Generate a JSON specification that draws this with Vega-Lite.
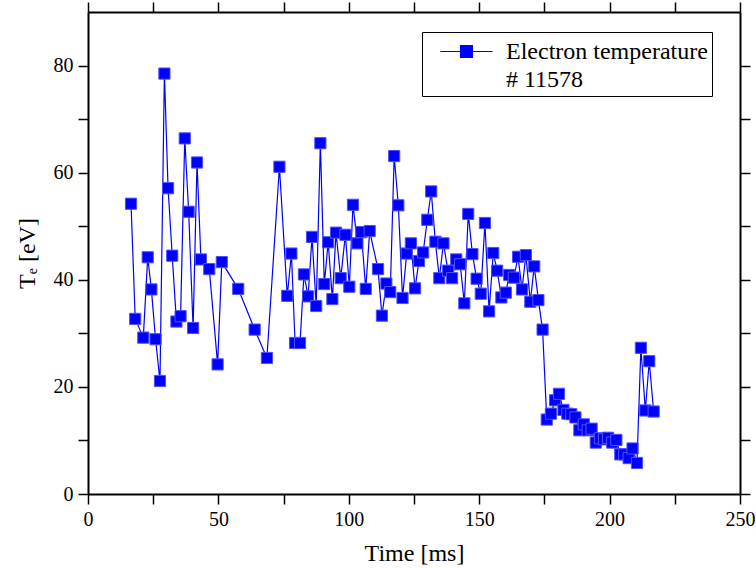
{
  "$schema": "https://vega.github.io/schema/vega-lite/v6.json",
  "width": 652,
  "height": 482,
  "autosize": {"type": "none"},
  "padding": {"left": 88, "top": 12, "right": 16, "bottom": 74},
  "background": "white",
  "config": {
    "font": "Liberation Serif",
    "view": {"stroke": null},
    "axis": {"domainColor": "black", "domainWidth": 2, "tickColor": "black", "tickWidth": 1.5, "labelColor": "black", "titleColor": "black", "labelFont": "Liberation Serif", "titleFont": "Liberation Serif", "grid": false, "titleFontWeight": "normal"},
    "legend": {"labelFont": "Liberation Serif"}
  },
  "data": {
    "values": [
      {"t": 16.5, "Te": 54.2, "series": "Electron temperature"},
      {"t": 18.1, "Te": 32.7, "series": "Electron temperature"},
      {"t": 21.2, "Te": 29.2, "series": "Electron temperature"},
      {"t": 22.9, "Te": 44.2, "series": "Electron temperature"},
      {"t": 24.3, "Te": 38.2, "series": "Electron temperature"},
      {"t": 25.9, "Te": 28.9, "series": "Electron temperature"},
      {"t": 27.6, "Te": 21.1, "series": "Electron temperature"},
      {"t": 29.3, "Te": 78.5, "series": "Electron temperature"},
      {"t": 30.7, "Te": 57.1, "series": "Electron temperature"},
      {"t": 32.3, "Te": 44.5, "series": "Electron temperature"},
      {"t": 33.9, "Te": 32.2, "series": "Electron temperature"},
      {"t": 35.5, "Te": 33.2, "series": "Electron temperature"},
      {"t": 37.1, "Te": 66.4, "series": "Electron temperature"},
      {"t": 38.6, "Te": 52.7, "series": "Electron temperature"},
      {"t": 40.3, "Te": 31.0, "series": "Electron temperature"},
      {"t": 41.8, "Te": 61.9, "series": "Electron temperature"},
      {"t": 43.3, "Te": 43.8, "series": "Electron temperature"},
      {"t": 46.5, "Te": 42.0, "series": "Electron temperature"},
      {"t": 49.7, "Te": 24.2, "series": "Electron temperature"},
      {"t": 51.3, "Te": 43.3, "series": "Electron temperature"},
      {"t": 57.6, "Te": 38.3, "series": "Electron temperature"},
      {"t": 63.9, "Te": 30.7, "series": "Electron temperature"},
      {"t": 68.6, "Te": 25.4, "series": "Electron temperature"},
      {"t": 73.4, "Te": 61.1, "series": "Electron temperature"},
      {"t": 76.4, "Te": 37.0, "series": "Electron temperature"},
      {"t": 78.0, "Te": 44.9, "series": "Electron temperature"},
      {"t": 79.4, "Te": 28.2, "series": "Electron temperature"},
      {"t": 81.3, "Te": 28.2, "series": "Electron temperature"},
      {"t": 82.8, "Te": 41.0, "series": "Electron temperature"},
      {"t": 84.4, "Te": 36.9, "series": "Electron temperature"},
      {"t": 85.9, "Te": 48.0, "series": "Electron temperature"},
      {"t": 87.5, "Te": 35.1, "series": "Electron temperature"},
      {"t": 89.1, "Te": 65.5, "series": "Electron temperature"},
      {"t": 90.6, "Te": 39.2, "series": "Electron temperature"},
      {"t": 92.1, "Te": 47.0, "series": "Electron temperature"},
      {"t": 93.7, "Te": 36.4, "series": "Electron temperature"},
      {"t": 95.1, "Te": 48.8, "series": "Electron temperature"},
      {"t": 96.9, "Te": 40.3, "series": "Electron temperature"},
      {"t": 98.7, "Te": 48.4, "series": "Electron temperature"},
      {"t": 100.2, "Te": 38.7, "series": "Electron temperature"},
      {"t": 101.6, "Te": 54.0, "series": "Electron temperature"},
      {"t": 103.3, "Te": 46.8, "series": "Electron temperature"},
      {"t": 104.8, "Te": 48.9, "series": "Electron temperature"},
      {"t": 106.5, "Te": 38.3, "series": "Electron temperature"},
      {"t": 108.0, "Te": 49.1, "series": "Electron temperature"},
      {"t": 111.2, "Te": 42.0, "series": "Electron temperature"},
      {"t": 112.7, "Te": 33.3, "series": "Electron temperature"},
      {"t": 114.4, "Te": 39.3, "series": "Electron temperature"},
      {"t": 115.9, "Te": 37.7, "series": "Electron temperature"},
      {"t": 117.4, "Te": 63.1, "series": "Electron temperature"},
      {"t": 119.0, "Te": 53.9, "series": "Electron temperature"},
      {"t": 120.6, "Te": 36.6, "series": "Electron temperature"},
      {"t": 122.2, "Te": 44.9, "series": "Electron temperature"},
      {"t": 123.8, "Te": 46.8, "series": "Electron temperature"},
      {"t": 125.4, "Te": 38.4, "series": "Electron temperature"},
      {"t": 126.9, "Te": 43.5, "series": "Electron temperature"},
      {"t": 128.5, "Te": 45.1, "series": "Electron temperature"},
      {"t": 130.1, "Te": 51.2, "series": "Electron temperature"},
      {"t": 131.6, "Te": 56.5, "series": "Electron temperature"},
      {"t": 133.2, "Te": 47.1, "series": "Electron temperature"},
      {"t": 134.7, "Te": 40.3, "series": "Electron temperature"},
      {"t": 136.3, "Te": 46.8, "series": "Electron temperature"},
      {"t": 138.0, "Te": 41.7, "series": "Electron temperature"},
      {"t": 139.6, "Te": 40.3, "series": "Electron temperature"},
      {"t": 141.2, "Te": 43.8, "series": "Electron temperature"},
      {"t": 142.7, "Te": 42.9, "series": "Electron temperature"},
      {"t": 144.3, "Te": 35.6, "series": "Electron temperature"},
      {"t": 145.8, "Te": 52.3, "series": "Electron temperature"},
      {"t": 147.4, "Te": 44.8, "series": "Electron temperature"},
      {"t": 149.0, "Te": 40.2, "series": "Electron temperature"},
      {"t": 150.6, "Te": 37.4, "series": "Electron temperature"},
      {"t": 152.2, "Te": 50.6, "series": "Electron temperature"},
      {"t": 153.8, "Te": 34.1, "series": "Electron temperature"},
      {"t": 155.4, "Te": 45.0, "series": "Electron temperature"},
      {"t": 156.9, "Te": 41.7, "series": "Electron temperature"},
      {"t": 158.5, "Te": 36.7, "series": "Electron temperature"},
      {"t": 160.2, "Te": 37.6, "series": "Electron temperature"},
      {"t": 161.5, "Te": 40.9, "series": "Electron temperature"},
      {"t": 163.3, "Te": 40.4, "series": "Electron temperature"},
      {"t": 164.9, "Te": 44.3, "series": "Electron temperature"},
      {"t": 166.4, "Te": 38.2, "series": "Electron temperature"},
      {"t": 167.9, "Te": 44.6, "series": "Electron temperature"},
      {"t": 169.6, "Te": 35.9, "series": "Electron temperature"},
      {"t": 171.1, "Te": 42.5, "series": "Electron temperature"},
      {"t": 172.7, "Te": 36.2, "series": "Electron temperature"},
      {"t": 174.3, "Te": 30.7, "series": "Electron temperature"},
      {"t": 175.9, "Te": 13.9, "series": "Electron temperature"},
      {"t": 177.5, "Te": 15.0, "series": "Electron temperature"},
      {"t": 179.1, "Te": 17.5, "series": "Electron temperature"},
      {"t": 180.6, "Te": 18.7, "series": "Electron temperature"},
      {"t": 182.3, "Te": 15.7, "series": "Electron temperature"},
      {"t": 183.8, "Te": 15.0, "series": "Electron temperature"},
      {"t": 185.3, "Te": 14.9, "series": "Electron temperature"},
      {"t": 186.9, "Te": 14.3, "series": "Electron temperature"},
      {"t": 188.4, "Te": 11.9, "series": "Electron temperature"},
      {"t": 190.1, "Te": 13.0, "series": "Electron temperature"},
      {"t": 191.6, "Te": 11.9, "series": "Electron temperature"},
      {"t": 193.1, "Te": 12.2, "series": "Electron temperature"},
      {"t": 194.7, "Te": 9.6, "series": "Electron temperature"},
      {"t": 196.3, "Te": 10.4, "series": "Electron temperature"},
      {"t": 197.9, "Te": 10.2, "series": "Electron temperature"},
      {"t": 199.4, "Te": 10.5, "series": "Electron temperature"},
      {"t": 201.0, "Te": 9.6, "series": "Electron temperature"},
      {"t": 202.6, "Te": 10.1, "series": "Electron temperature"},
      {"t": 204.1, "Te": 7.4, "series": "Electron temperature"},
      {"t": 205.6, "Te": 7.4, "series": "Electron temperature"},
      {"t": 207.3, "Te": 6.7, "series": "Electron temperature"},
      {"t": 208.8, "Te": 8.5, "series": "Electron temperature"},
      {"t": 210.5, "Te": 5.8, "series": "Electron temperature"},
      {"t": 212.0, "Te": 27.3, "series": "Electron temperature"},
      {"t": 213.7, "Te": 15.6, "series": "Electron temperature"},
      {"t": 215.2, "Te": 24.8, "series": "Electron temperature"},
      {"t": 216.9, "Te": 15.4, "series": "Electron temperature"}
    ]
  },
  "layer": [
    {
      "mark": {"type": "line", "strokeWidth": 1.2, "clip": true},
      "encoding": {
        "x": {"field": "t", "type": "quantitative", "scale": {"domain": [0, 250], "nice": false},
          "axis": {"orient": "bottom", "title": "Time [ms]", "titleFontSize": 24, "titlePadding": 12, "labelFontSize": 20, "labelPadding": 5, "tickSize": 10,
            "values": [0, 25, 50, 75, 100, 125, 150, 175, 200, 225, 250],
            "labelExpr": "datum.value % 50 === 0 ? datum.label : ''",
            "labelFlush": false, "labelOverlap": false,
            "encode": {"ticks": {"update": {"y2": {"signal": "datum.value % 50 === 0 ? 10 : 5"}}}}}},
        "y": {"field": "Te", "type": "quantitative", "scale": {"domain": [0, 90], "nice": false},
          "axis": {"orient": "left", "title": "Tₑ [eV]", "titleFontSize": 24, "titlePadding": 14, "labelFontSize": 20, "labelPadding": 5, "tickSize": 10,
            "values": [0, 10, 20, 30, 40, 50, 60, 70, 80],
            "labelExpr": "datum.value % 20 === 0 ? datum.label : ''",
            "labelFlush": false, "labelOverlap": false,
            "encode": {"ticks": {"update": {"x2": {"signal": "datum.value % 20 === 0 ? -10 : -5"}}}}}},
        "color": {"field": "series", "type": "nominal", "scale": {"range": ["#0000ff"]},
          "legend": {
            "orient": "none", "legendX": 334, "legendY": 20, "title": null,
            "padding": 4, "strokeColor": "black", "fillColor": "white",
            "symbolType": "M-1.8,0H1.8M-0.41,-0.41H0.41V0.41H-0.41Z",
            "symbolSize": 841, "symbolStrokeWidth": 1.2, "symbolFillColor": "#0000ff", "symbolStrokeColor": "#0000ff",
            "symbolOffset": 25, "labelOffset": 24,
            "labelFontSize": 24, "labelLimit": 0, "labelColor": "black",
            "labelExpr": "['Electron temperature', '# 11578']",
            "labelBaseline": "middle",
            "encode": {"labels": {"update": {"lineHeight": {"value": 28}}}}
          }}
      }
    },
    {
      "mark": {"type": "point", "shape": "square", "filled": true, "size": 125, "stroke": "#5050ff", "strokeWidth": 1, "opacity": 1, "clip": true},
      "encoding": {
        "x": {"field": "t", "type": "quantitative",
          "axis": {"orient": "top", "title": null, "labels": false, "tickSize": 10,
            "values": [0, 25, 50, 75, 100, 125, 150, 175, 200, 225, 250],
            "encode": {"ticks": {"update": {"y2": {"signal": "datum.value % 50 === 0 ? 10 : 5"}}}}}},
        "y": {"field": "Te", "type": "quantitative",
          "axis": {"orient": "right", "title": null, "labels": false, "tickSize": 10,
            "values": [0, 10, 20, 30, 40, 50, 60, 70, 80],
            "encode": {"ticks": {"update": {"x2": {"signal": "datum.value % 20 === 0 ? -10 : -5"}}}}}},
        "fill": {"value": "#0000ff"}
      }
    }
  ],
  "resolve": {"axis": {"x": "independent", "y": "independent"}}
}
